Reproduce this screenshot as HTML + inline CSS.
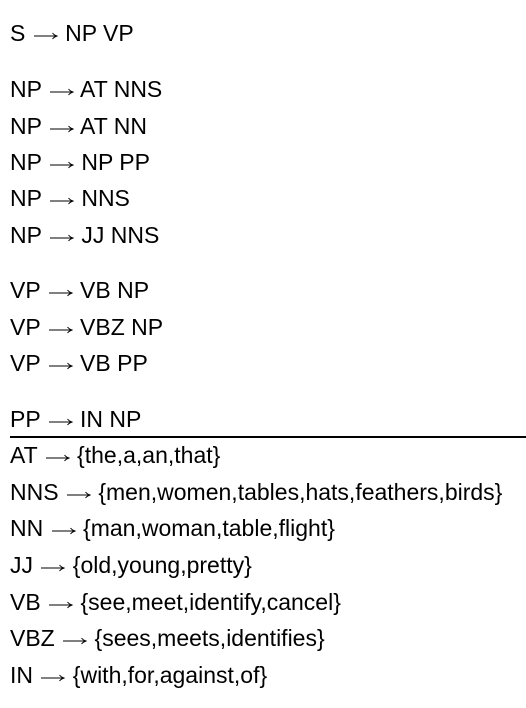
<!DOCTYPE html>
<html><head><meta charset="utf-8"><style>
html,body{margin:0;padding:0;background:#fff;width:526px;height:708px;overflow:hidden;position:relative}
div.r{position:absolute;left:10px;font-family:"Liberation Sans",sans-serif;font-size:23px;line-height:23px;color:#000;white-space:nowrap}
svg.a{display:inline-block;width:24px;height:10px;vertical-align:0px;margin:0 1px 0 2px}
.hr{position:absolute;left:10px;top:436px;width:516px;height:2px;background:#000}
</style></head><body>
<svg width="0" height="0" style="position:absolute"><defs><symbol id="ar" viewBox="0 0 24 10"><line x1="0" y1="5" x2="23" y2="5" stroke="#000" stroke-width="1.1"/><path d="M18.5 2 Q20.5 4.5 23.5 5 Q20.5 5.5 18.5 8" fill="none" stroke="#000" stroke-width="1"/></symbol></defs></svg>
<div class="r" style="top:22px">S <svg class="a"><use href="#ar"/></svg> NP VP</div>
<div class="r" style="top:78px">NP <svg class="a"><use href="#ar"/></svg> AT NNS</div>
<div class="r" style="top:115px">NP <svg class="a"><use href="#ar"/></svg> AT NN</div>
<div class="r" style="top:151px">NP <svg class="a"><use href="#ar"/></svg> NP PP</div>
<div class="r" style="top:187px">NP <svg class="a"><use href="#ar"/></svg> NNS</div>
<div class="r" style="top:224px">NP <svg class="a"><use href="#ar"/></svg> JJ NNS</div>
<div class="r" style="top:279px">VP <svg class="a"><use href="#ar"/></svg> VB NP</div>
<div class="r" style="top:316px">VP <svg class="a"><use href="#ar"/></svg> VBZ NP</div>
<div class="r" style="top:352px">VP <svg class="a"><use href="#ar"/></svg> VB PP</div>
<div class="r" style="top:408px">PP <svg class="a"><use href="#ar"/></svg> IN NP</div>
<div class="hr"></div>
<div class="r" style="top:444px">AT <svg class="a"><use href="#ar"/></svg> {the,a,an,that}</div>
<div class="r" style="top:481px">NNS <svg class="a"><use href="#ar"/></svg> {men,women,tables,hats,feathers,birds}</div>
<div class="r" style="top:517px">NN <svg class="a"><use href="#ar"/></svg> {man,woman,table,flight}</div>
<div class="r" style="top:554px">JJ <svg class="a"><use href="#ar"/></svg> {old,young,pretty}</div>
<div class="r" style="top:591px">VB <svg class="a"><use href="#ar"/></svg> {see,meet,identify,cancel}</div>
<div class="r" style="top:627px">VBZ <svg class="a"><use href="#ar"/></svg> {sees,meets,identifies}</div>
<div class="r" style="top:664px">IN <svg class="a"><use href="#ar"/></svg> {with,for,against,of}</div>
</body></html>
